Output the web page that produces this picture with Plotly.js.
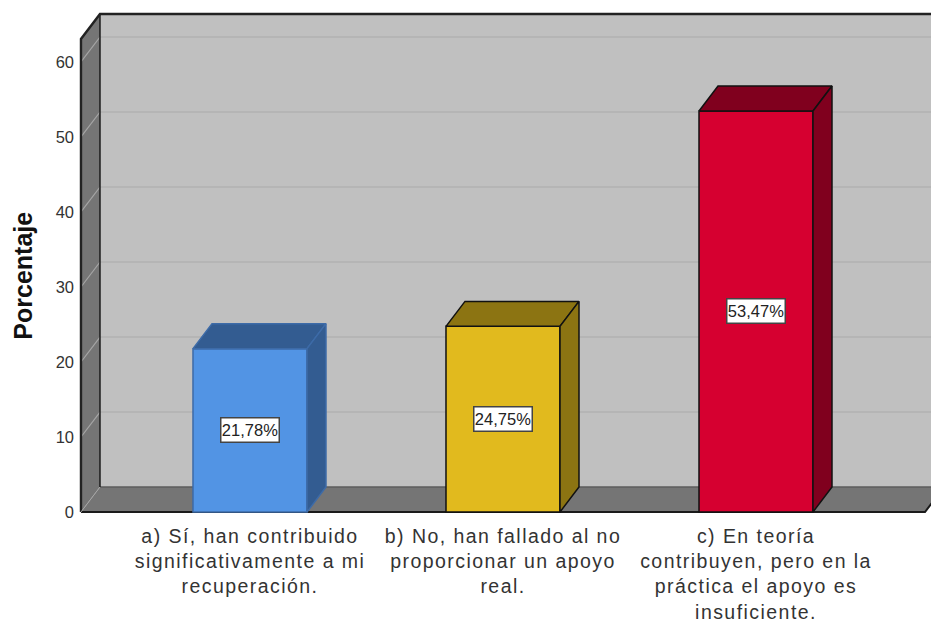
<!DOCTYPE html>
<html>
<head>
<meta charset="utf-8">
<script src="https://cdn.plot.ly/plotly-3.0.1.min.js"></script>
<style>
html,body{margin:0;padding:0;background:#fff}
.xtick text{letter-spacing:1.45px}
</style>
</head>
<body>
<div id="chart" style="width:931px;height:622px"></div>
<script>
const categories = [
  "a) Sí, han contribuido<br>significativamente a mi<br>recuperación.",
  "b) No, han fallado al no<br>proporcionar un apoyo<br>real.",
  "c) En teoría<br>contribuyen, pero en la<br>práctica el apoyo es<br>insuficiente."
];
const values = [21.78, 24.75, 53.47];
const valueLabels = ["21,78%", "24,75%", "53,47%"];
const yTicks = [0, 10, 20, 30, 40, 50, 60];
const frontColors = ["#5294e4", "#e1ba1e", "#d60030"];
const shadeColors = ["#335c91", "#8c7412", "#80001e"];
const edgeColors = ["#3d6ba8", "#111111", "#111111"];

const positions = [0, 1, 2];
const barWidth = 0.4506;
const dx = 0.0751, dy = 3.33;
const wallL = -0.668, wallR = 2.668, wallTop = 63.07;
const xRange = [-0.6877, 2.6917];
const yRange = [-0.4, 66.93];

const poly = (xs, ys, fill, line, w) => ({
  type: 'path',
  xref: 'x', yref: 'y', layer: 'below',
  path: 'M' + xs.map((x, i) => x + ',' + ys[i]).join('L') + (fill ? 'Z' : ''),
  fillcolor: fill || 'rgba(0,0,0,0)',
  line: {color: line || 'rgba(0,0,0,0)', width: line ? w : 0}
});

const shapes = [
  poly([wallL + dx, wallR + dx, wallR + dx, wallL + dx], [dy, dy, wallTop + dy, wallTop + dy], '#c0c0c0'),
  poly([wallL, wallL + dx, wallL + dx, wallL], [0, dy, wallTop + dy, wallTop], '#757575'),
  poly([wallL, wallR, wallR + dx, wallL + dx], [0, 0, dy, dy], '#757575')
];
yTicks.slice(1).forEach(v => {
  shapes.push(poly([wallL, wallL + dx], [v, v + dy], null, '#a6a6a6', 1.2));
  shapes.push(poly([wallL + dx, wallR + dx], [v + dy, v + dy], null, '#b2b2b2', 1.5));
});
shapes.push(poly([wallL + dx, wallR + dx], [dy, dy], null, '#5c5c5c', 1.5));
shapes.push(poly([wallL + dx, wallL + dx], [dy, wallTop + dy], null, '#1a1a1a', 1.5));
shapes.push(poly([wallL, wallL, wallL + dx, wallR + dx], [0, wallTop, wallTop + dy, wallTop + dy], null, '#222222', 2.4));
shapes.push(poly([wallL, wallR, wallR + dx], [0, 0, dy], null, '#1a1a1a', 2));
shapes.push(poly([wallL, wallL + dx], [0, dy], null, '#a6a6a6', 1));

const traces = [{
  type: 'bar',
  x: positions,
  y: values,
  width: barWidth,
  marker: {color: frontColors, line: {color: edgeColors, width: 1.5}},
  hoverinfo: 'skip',
  showlegend: false
}];

values.forEach((v, i) => {
  const l = positions[i] - barWidth / 2, r = positions[i] + barWidth / 2;
  const face = (xs, ys) => ({
    type: 'scatter', mode: 'lines', x: xs, y: ys, fill: 'toself',
    fillcolor: shadeColors[i],
    line: {color: edgeColors[i], width: 1.5},
    hoverinfo: 'skip', showlegend: false
  });
  traces.push(face([l, r, r + dx, l + dx, l], [v, v, v + dy, v + dy, v]));
  traces.push(face([r, r + dx, r + dx, r, r], [0, dy, v + dy, v, 0]));
});

const annotations = values.map((v, i) => ({
  x: positions[i], y: v / 2, xref: 'x', yref: 'y',
  text: valueLabels[i], showarrow: false,
  width: 57, height: 23,
  font: {family: 'Liberation Sans, Arial, sans-serif', size: 16.5, color: '#222'},
  bgcolor: '#ffffff', bordercolor: '#444444', borderwidth: 1.5, borderpad: 0
}));
annotations.push({
  xref: 'paper', yref: 'paper', x: 0, y: 0.474,
  xshift: -53, xanchor: 'center', yanchor: 'middle',
  text: '<b>Porcentaje</b>', textangle: -90, showarrow: false,
  font: {family: 'Liberation Sans, Arial, sans-serif', size: 25, color: '#111'}
});

const layout = {
  width: 931, height: 622,
  margin: {l: 76, r: 0, t: 10, b: 107, pad: 0},
  paper_bgcolor: '#ffffff', plot_bgcolor: '#ffffff',
  bargap: 0,
  xaxis: {
    range: xRange, tickmode: 'array', tickvals: positions, ticktext: categories,
    showgrid: false, zeroline: false, showline: false, ticks: '', tickangle: 0,
    ticklabelstandoff: 7,
    tickfont: {family: 'Liberation Sans, Arial, sans-serif', size: 19.5, color: '#333'}
  },
  yaxis: {
    range: yRange, tickmode: 'array', tickvals: yTicks, ticktext: yTicks.map(String),
    showgrid: false, zeroline: false, showline: false, ticks: '',
    ticklabelstandoff: 1,
    tickfont: {family: 'Liberation Sans, Arial, sans-serif', size: 16.5, color: '#333'}
  },
  shapes, annotations
};
Plotly.newPlot('chart', traces, layout, {displayModeBar: false, staticPlot: true});
</script>
</body>
</html>
